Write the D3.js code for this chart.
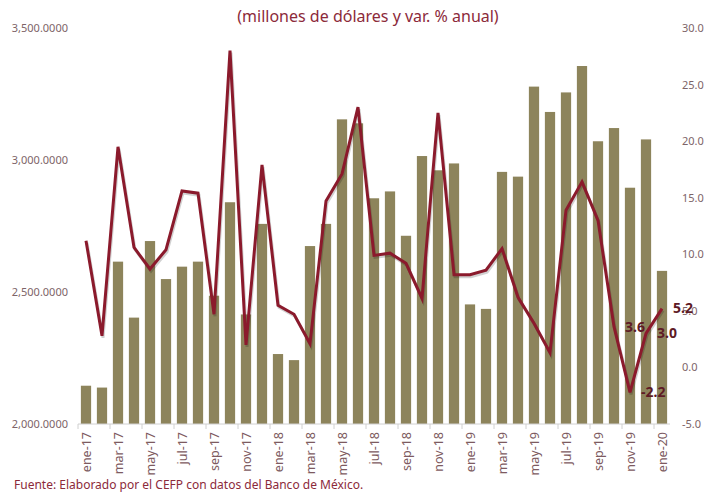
<!DOCTYPE html>
<html>
  <head>
    <meta charset="UTF-8">
    <title>Millones de dólares y var. % anual</title>
    <style>
      body { margin: 0; background: #fff; }
      svg text { font-family: "Noto Sans", "DejaVu Sans", sans-serif; }
    </style>
  </head>
  <body>
    <div id="chart"></div>
    <script src="https://cdn.jsdelivr.net/npm/d3@7"></script>
    <script>

// months, ene-17 .. ene-20
var months = ["ene-17","feb-17","mar-17","abr-17","may-17","jun-17","jul-17","ago-17","sep-17","oct-17","nov-17","dic-17",
  "ene-18","feb-18","mar-18","abr-18","may-18","jun-18","jul-18","ago-18","sep-18","oct-18","nov-18","dic-18",
  "ene-19","feb-19","mar-19","abr-19","may-19","jun-19","jul-19","ago-19","sep-19","oct-19","nov-19","dic-19",
  "ene-20"];

// millones de dólares (bars, left axis)
var montos = [2145, 2138, 2615, 2403, 2693, 2549, 2596, 2615, 2486, 2840, 2415, 2758,
  2265, 2242, 2674, 2758, 3154, 3139, 2855, 2881, 2713, 3015, 2961, 2987,
  2453, 2436, 2955, 2937, 3278, 3182, 3256, 3356, 3071, 3121, 2895, 3078,
  2580];

// var. % anual (line, right axis)
var variacion = [11.2, 2.8, 19.5, 10.6, 8.7, 10.4, 15.6, 15.4, 4.7, 28.0, 2.0, 17.9,
  5.5, 4.7, 2.1, 14.7, 17.1, 23.0, 9.9, 10.1, 9.2, 6.1, 22.5, 8.2,
  8.2, 8.6, 10.5, 6.2, 3.9, 1.3, 13.9, 16.4, 13.0, 3.6, -2.2, 3.0,
  5.2];

var leftTicks = [2000, 2500, 3000, 3500];
var rightTicks = [-5, 0, 5, 10, 15, 20, 25, 30];
var labeled = ["oct-19", "nov-19", "dic-19", "ene-20"];

var width = 705, height = 492;
var margin = {top: 28, right: 35, bottom: 68, left: 78};

// plain hyphen for negatives, like the original
var fmt1 = (d) => d.toFixed(1);

var svg = d3.select("#chart").append("svg")
  .attr("width", width)
  .attr("height", height);

var x = d3.scaleBand()
  .domain(months)
  .range([margin.left, width - margin.right])
  .paddingInner(0.36)
  .paddingOuter(0.18);

var yL = d3.scaleLinear().domain([2000, 3500]).range([height - margin.bottom, margin.top]);
var yR = d3.scaleLinear().domain([-5, 30]).range([height - margin.bottom, margin.top]);

var grey = "#7d6468";

// title
svg.append("text")
  .attr("x", 368)
  .attr("y", 22)
  .attr("text-anchor", "middle")
  .attr("fill", "#8c2a3a")
  .style("font-size", "16px")
  .text("(millones de dólares y var. % anual)");

// bars
svg.append("g").selectAll("rect")
  .data(months)
  .enter().append("rect")
    .attr("x", (d) => x(d))
    .attr("width", x.bandwidth())
    .attr("y", (d, i) => yL(montos[i]))
    .attr("height", (d, i) => yL(2000) - yL(montos[i]))
    .attr("fill", "#8d845b");

// left axis
var leftAxis = svg.append("g")
  .attr("transform", "translate(71,0)")
  .call(d3.axisLeft(yL).tickValues(leftTicks).tickSize(0).tickFormat(d3.format(",.4f")));
leftAxis.select(".domain").remove();
leftAxis.selectAll("text").attr("fill", grey).style("font-size", "11px");

// right axis
var rightAxis = svg.append("g")
  .attr("transform", "translate(679,0)")
  .call(d3.axisRight(yR).tickValues(rightTicks).tickSize(0).tickFormat(fmt1));
rightAxis.select(".domain").remove();
rightAxis.selectAll("text").attr("fill", grey).style("font-size", "11px");

// x axis
var base = height - margin.bottom;
svg.append("line")
  .attr("x1", margin.left).attr("x2", width - margin.right)
  .attr("y1", base).attr("y2", base)
  .attr("stroke", "#d0d0d0");

svg.append("g").selectAll("line")
  .data(months.filter((d, i) => i % 2 == 0))
  .enter().append("line")
    .attr("x1", (d) => x(d) - x.step() * x.paddingInner() / 2)
    .attr("x2", (d) => x(d) - x.step() * x.paddingInner() / 2)
    .attr("y1", base).attr("y2", base + 5)
    .attr("stroke", "#d0d0d0");

svg.append("g").selectAll("text")
  .data(months.filter((d, i) => i % 2 == 0))
  .enter().append("text")
    .attr("transform", (d) => "translate(" + (x(d) + x.bandwidth() / 2 + 4.5) + "," + (base + 8) + ") rotate(-90)")
    .attr("text-anchor", "end")
    .attr("fill", "#7d5a60")
    .style("font-size", "12.5px")
    .text((d) => d);

// line
var line = d3.line()
  .x((d, i) => x(months[i]) + x.bandwidth() / 2)
  .y((d) => yR(d));

svg.append("path")
  .datum(variacion)
  .attr("d", line)
  .attr("fill", "none")
  .attr("stroke", "rgba(0,0,0,0.18)")
  .attr("stroke-width", 3)
  .attr("transform", "translate(1,2)");

svg.append("path")
  .datum(variacion)
  .attr("d", line)
  .attr("fill", "none")
  .attr("stroke", "#8b1a2c")
  .attr("stroke-width", 3)
  .attr("stroke-linejoin", "miter");

// data labels
svg.append("g").selectAll("text")
  .data(labeled)
  .enter().append("text")
    .attr("x", (d) => x(d) + x.bandwidth() / 2 + 11)
    .attr("y", (d) => yR(variacion[months.indexOf(d)]))
    .attr("dy", "0.35em")
    .attr("fill", "#5e1a25")
    .style("font-size", "14px")
    .style("font-weight", "bold")
    .text((d) => fmt1(variacion[months.indexOf(d)]));

// source
svg.append("text")
  .attr("x", 14)
  .attr("y", 489)
  .attr("fill", "#8c2a3a")
  .style("font-size", "12px")
  .text("Fuente: Elaborado por el CEFP con datos del Banco de México.");

    </script>
  </body>
</html>
